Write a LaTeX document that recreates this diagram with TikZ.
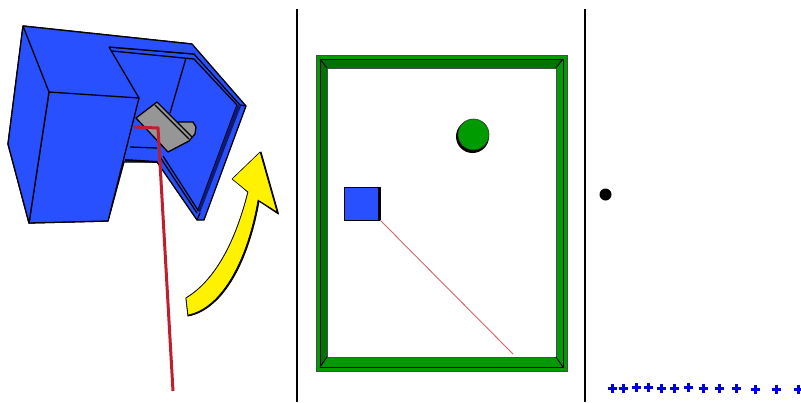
\documentclass[tikz,border=0pt]{standalone}
\usepackage{tikz}
\usetikzlibrary{calc}
\definecolor{wallblue}{RGB}{40,80,255}
\definecolor{wallshade}{RGB}{15,25,110}
\definecolor{framegreen}{RGB}{0,155,0}
\definecolor{framedark}{RGB}{0,115,0}
\definecolor{beamred}{RGB}{190,30,45}
\definecolor{partgray}{RGB}{150,150,150}

\begin{document}
\begin{tikzpicture}[
    x=1pt, y=-1pt,
    edge/.style={draw=black, line width=1.3pt, line join=round},
    wall/.style={edge, fill=wallblue},
    divider/.style={draw=black, line width=2.2pt},
    marker/.style={draw={rgb,255:red,0;green,0;blue,225}, line width=3pt},
  ]

  \useasboundingbox (0,0) rectangle (801,402);

  % ── Left panel ───────────────────────────────────────────────────────────

  % Blue body
  \draw[wall] (23,26) -- (192,44) -- (246,106) -- (204,220) -- (197,220)
    -- (157,162) -- (124,162) -- (108,221) -- (29,223) -- (8,144) -- cycle;

  % Opening
  \draw[edge] (109,47) -- (194,54) -- (240,105) -- (246,106);
  \draw[edge] (112,51) -- (194,59) -- (237,105) -- (198,210);
  \fill[wallshade] (237,105) -- (241,106) -- (200,213) -- (198,210) -- cycle;
  \draw[edge] (200,213) -- (197,220);
  \draw[edge] (197,213) -- (160,157);
  \draw[edge] (198.5,211) -- (163,156);
  \draw[edge] (186,58) -- (170,113);
  \draw[edge] (130,147) -- (157,148);
  \draw[edge, line width=2pt] (125,160) -- (157,162);

  % Gray part
  \draw[edge, fill=partgray] (178,122) -- (193,122) -- (196,127) -- (195,134)
    -- (189,141) -- (168,152) -- (136,118) -- (157,102) -- (192,137);
  \draw[edge] (155,105) -- (189,139);

  % Front of the body
  \fill[wallblue] (23,26) -- (49,92) -- (139,98) -- (109,47) -- (194,54) -- (192,44) -- cycle;
  \draw[edge] (23,26) -- (192,44);
  \draw[edge] (109,47) -- (194,54);
  \draw[edge] (139,98) -- (109,47);
  \draw[wall] (49,92) -- (139,98) -- (108,221) -- (29,223) -- cycle;
  \draw[wall] (23,26) -- (49,92) -- (29,223) -- (8,144) -- cycle;

  % Red ray
  \draw[beamred, line width=3pt, line join=miter] (134,127) -- (158,128) -- (173,391);

  % Yellow arrow
  \coordinate (tip) at (260,152);
  \draw[black, fill=black, line width=1pt, line join=round] ($(tip)+(1,0)$) -- (233,179) -- (248,192)
    .. controls (236,240) and (216,280) .. (186,298) -- (188,316)
    .. controls (224,309) and (249,259) .. (259,201) -- (278.5,214) -- cycle;
  \draw[black, fill=yellow, line width=.6pt, line join=round] (tip) -- (232,179) -- (248,192)
    .. controls (236,240) and (216,280) .. (186,298) -- (188,315)
    .. controls (223,308) and (248,258) .. (258,200) -- (277,212) -- cycle;

  % ── Dividers ─────────────────────────────────────────────────────────────

  \draw[divider] (297,9) -- (297,402);
  \draw[divider] (585,9) -- (585,402);

  % ── Middle panel ─────────────────────────────────────────────────────────

  % Green frame
  \draw[draw=black!70, line width=.8pt, fill=framegreen, even odd rule]
    (316,55) rectangle (567,371) (327,68) rectangle (556,357);
  \fill[framedark] (320,59) -- (563,59) -- (556,68) -- (327,68) -- (327,357) -- (320,367) -- cycle;
  \draw[black, line width=1pt] (320,59) -- (563,59) -- (563,367) -- (320,367) -- cycle;
  \draw[black, line width=1pt] (320,59) -- (327,68);
  \draw[black, line width=1pt] (563,59) -- (556,68);
  \draw[black, line width=1pt] (563,367) -- (556,357);
  \draw[black, line width=1pt] (320,367) -- (327,357);

  % Ball
  \fill[black] (472.5,136.5) circle (16.5);
  \draw[black!80, line width=.6pt, fill=framegreen] (473.5,134.5) circle (15.5);

  % Square and its ray
  \draw[red!70!black!60, line width=.9pt] (380,220) -- (513,354);
  \draw[black, line width=.8pt, fill=wallblue] (344.5,187) rectangle (379,220);
  \draw[black, line width=2.2pt] (379.5,187) -- (379.5,220);

  % ── Right panel ──────────────────────────────────────────────────────────

  \fill[black] (605.5,194.5) circle (6);

  \foreach \px/\py in {612/388, 623/388, 636/387, 648/387, 661/388, 674/388, 688/387,
                       703/388, 719/388, 736/388, 755/389, 776/389, 798/389} {
    \draw[marker] (\px-4.5,\py) -- (\px+4.5,\py);
    \draw[marker] (\px,\py-4.5) -- (\px,\py+4.5);
  }

\end{tikzpicture}
\end{document}
